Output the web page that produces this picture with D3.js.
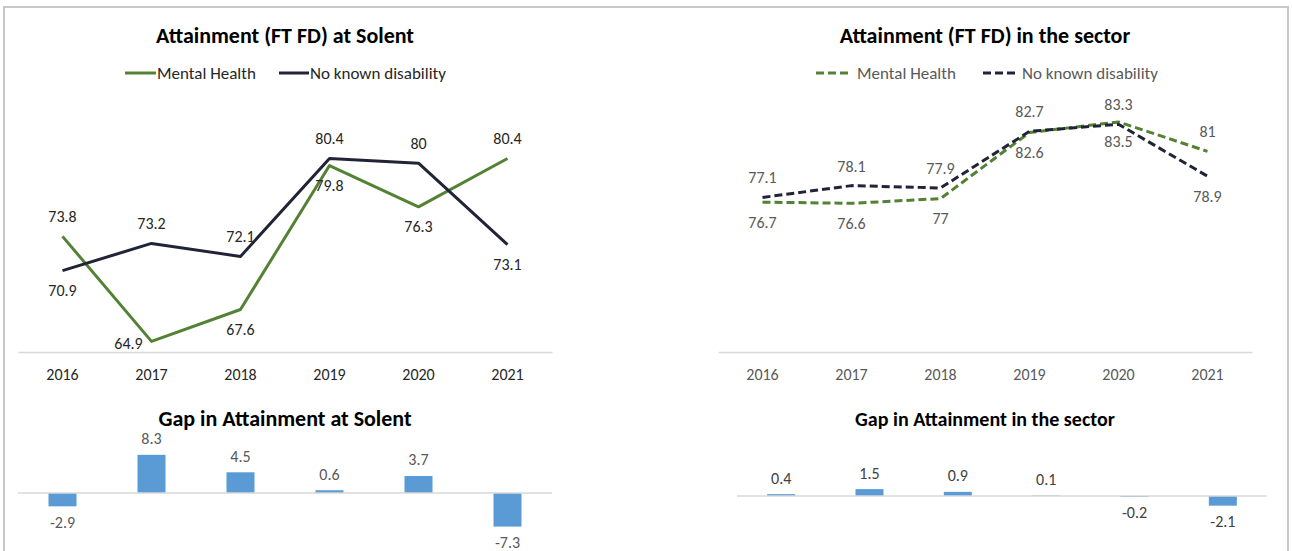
<!DOCTYPE html>
<html>
<head>
<meta charset="utf-8">
<script src="https://cdn.jsdelivr.net/npm/d3@7"></script>
<style>
  body{margin:0;background:#fff;}
  svg text{font-family:Carlito, Calibri, Lato, "Open Sans", sans-serif;}
</style>
</head>
<body>
<div id="svg-container"></div>
<script>
const years=["2016","2017","2018","2019","2020","2021"];
const solentMH=[73.8,64.9,67.6,79.8,76.3,80.4];
const solentNKD=[70.9,73.2,72.1,80.4,80,73.1];
const sectorMH=[76.7,76.6,77,82.6,83.5,81];
const sectorNKD=[77.1,78.1,77.9,82.7,83.3,78.9];
const solentGap=[-2.9,8.3,4.5,0.6,3.7,-7.3];
const sectorGap=[0.4,1.5,0.9,0.1,-0.2,-2.1];
// where each point label sits relative to its point
const solentMHSide=["above","left","below","below","below","above"];
const solentNKDSide=["below","above","above","above","above","below"];
const sectorMHSide=["below","below","below","below","below","above"];
const sectorNKDSide=["above","above","above","above","above","below"];

const w=1292, h=551;
const green="#548235", navy="#212436", blue="#5b9bd5", grid="#d9d9d9";

const svg=d3.select("#svg-container").append("svg")
  .attr("width",w).attr("height",h);

svg.append("rect")
  .attr("x",4).attr("y",7).attr("width",1284).attr("height",560)
  .attr("fill","none").attr("stroke","#c8c8c8").attr("stroke-width",2);

const yScale=d3.scaleLinear().domain([64,84]).range([352,116]);

function lineChart(x0,x1,title,mh,nkd,mhSide,nkdSide,dashed,txtCol,legend){
  const x=d3.scaleBand().domain(years).range([x0,x1]);
  const cx=d=>x(d)+x.bandwidth()/2;
  const g=svg.append("g");

  g.append("text").text(title)
    .attr("x",(x0+x1)/2).attr("y",42.5)
    .attr("text-anchor","middle").style("font-size","22px").style("font-weight","bold").attr("fill","#000");

  const ax=g.append("g").attr("transform",`translate(0,352)`)
    .call(d3.axisBottom(x).tickSize(0).tickPadding(17));
  ax.select(".domain").attr("stroke",grid).attr("stroke-width",1.3);
  ax.selectAll("text").style("font-size","16px").attr("fill",txtCol)
    .style("font-family","Carlito, Calibri, Lato, sans-serif");

  const series=[{v:mh,c:green,side:mhSide},{v:nkd,c:navy,side:nkdSide}];
  const line=d3.line().x(d=>cx(d[0])).y(d=>yScale(d[1]));
  series.forEach(s=>{
    const pts=years.map((yr,i)=>[yr,s.v[i]]);
    g.append("path").datum(pts).attr("d",line)
      .attr("fill","none").attr("stroke",s.c).attr("stroke-width",3)
      .attr("stroke-dasharray",dashed?"8,4":null)
      .attr("stroke-linejoin","round");
    g.selectAll(null).data(pts).enter().append("text")
      .text(d=>d[1])
      .attr("x",(d,i)=>s.side[i]==="left"?cx(d[0])-23:cx(d[0]))
      .attr("y",(d,i)=>{
        const p=yScale(d[1]);
        if(s.side[i]==="above") return p-14;
        if(s.side[i]==="below") return p+25.5;
        return p+8;
      })
      .attr("text-anchor","middle").style("font-size","16px").attr("fill",txtCol);
  });

  // legend
  const lg=g.append("g");
  legend.forEach((it,i)=>{
    lg.append("line").attr("x1",it.lx).attr("x2",it.lx+it.lw).attr("y1",73).attr("y2",73)
      .attr("stroke",i===0?green:navy).attr("stroke-width",3)
      .attr("stroke-dasharray",dashed?"8,4":null);
    lg.append("text").text(it.t).attr("x",it.tx).attr("y",79)
      .style("font-size","17px").attr("fill",txtCol);
  });
}

function gapChart(x0,x1,base,title,titleSize,vals,txtCol){
  const x=d3.scaleBand().domain(years).range([x0,x1]);
  const y=d3.scaleLinear().domain([-10,10]).range([base+46,base-46]);
  const g=svg.append("g");
  g.append("text").text(title).attr("x",(x0+x1)/2-(x0>600?17:0)).attr("y",426)
    .attr("text-anchor","middle").style("font-size",titleSize).style("font-weight","bold").attr("fill","#000");
  g.selectAll("rect").data(vals).enter().append("rect")
    .attr("x",(d,i)=>x(years[i])+x.bandwidth()/2-14)
    .attr("width",28)
    .attr("y",d=>Math.min(y(d),y(0)))
    .attr("height",d=>Math.abs(y(d)-y(0)))
    .attr("fill",blue);
  g.append("line").attr("x1",x0).attr("x2",x1).attr("y1",y(0)).attr("y2",y(0))
    .attr("stroke",grid).attr("stroke-width",1.3);
  g.selectAll(null).data(vals).enter().append("text")
    .text(d=>d)
    .attr("x",(d,i)=>x(years[i])+x.bandwidth()/2)
    .attr("y",d=>d>=0?y(d)-10.5:y(d)+21.5)
    .attr("text-anchor","middle").style("font-size","16px").attr("fill",txtCol);
}

lineChart(18,552,"Attainment (FT FD) at Solent",solentMH,solentNKD,solentMHSide,solentNKDSide,false,"#262626",
  [{lx:125,lw:31,tx:157,t:"Mental Health"},{lx:279,lw:30,tx:310,t:"No known disability"}]);
lineChart(718,1252,"Attainment (FT FD) in the sector",sectorMH,sectorNKD,sectorMHSide,sectorNKDSide,true,"#595959",
  [{lx:816,lw:34,tx:857,t:"Mental Health"},{lx:983,lw:34,tx:1022,t:"No known disability"}]);

gapChart(18,552,493,"Gap in Attainment at Solent","22px",solentGap,"#595959");
gapChart(737,1267,496,"Gap in Attainment in the sector","20px",sectorGap,"#404040");
</script>
</body>
</html>
